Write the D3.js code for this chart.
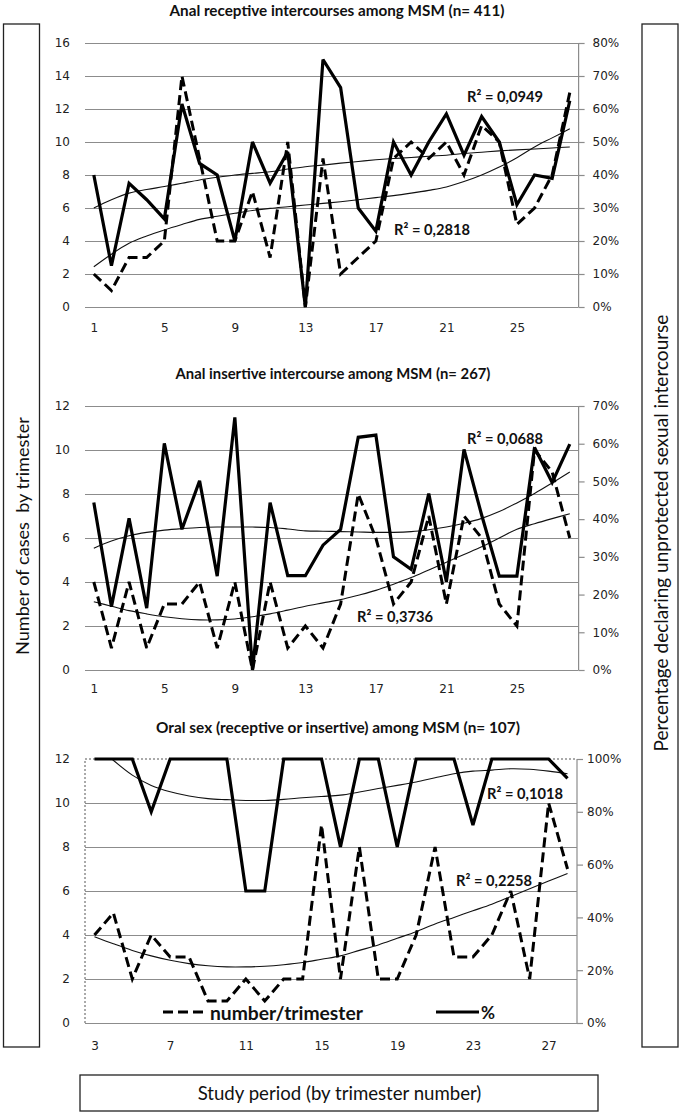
<!DOCTYPE html>
<html><head><meta charset="utf-8">
<script src="https://cdn.jsdelivr.net/npm/d3@7"></script>
<style>html,body{margin:0;padding:0;background:#fff}svg{display:block}</style>
</head><body>
<svg id="chart" width="682" height="1115"></svg>
<script>
// ---------- DATA ----------
const trimestersA = [1,2,3,4,5,6,7,8,9,10,11,12,13,14,15,16,17,18,19,20,21,22,23,24,25,26,27,28];
const trimestersC = [3,4,5,6,7,8,9,10,11,12,13,14,15,16,17,18,19,20,21,22,23,24,25,26,27,28];
const xTicksA = [1,5,9,13,17,21,25];
const xTicksC = [3,7,11,15,19,23,27];

// Panel 1 : anal receptive
const receptiveCount = [2,1,3,3,4,14,9,4,4,7,3,10,0,9,2,3,4,9,10,9,10,8,11,10,5,6,8,13];
const receptivePct   = [40,12.5,37.5,32.5,26.7,61.5,43.5,40,20,50,37.5,47,0,75,66.5,30,23,50,40,50,58.5,46,57.7,50,31,40,39,62.5];
const receptiveCountTrend = [2.44,3.2,3.86,4.3,4.67,5.0,5.31,5.5,5.68,5.85,5.98,6.08,6.18,6.28,6.38,6.5,6.63,6.75,6.9,7.07,7.27,7.6,8.0,8.48,9.05,9.7,10.25,10.8];
const receptivePctTrend   = [30,32.5,34.5,35.6,36.5,37.5,38.5,39.3,40,40.5,41,41.8,42.5,43,43.6,44.1,44.6,45,45.3,45.7,46,46.5,46.9,47.3,47.6,47.9,48.2,48.5];

// Panel 2 : anal insertive
const insertiveCount = [4,1,4,1,3,3,4,1,4,0,4,1,2,1,3,8,6,3,4,7,3,7,6,3,2,10,9,6];
const insertivePct   = [44.4,16.8,40.2,16.4,60.1,37.3,50.2,24.9,67,0,44.4,25,25,33.1,37.3,61.7,62.3,30,26.7,46.8,23.4,58.5,41.1,24.9,24.9,59,49.7,59.9];
const insertiveCountTrend = [3.1,2.9,2.7,2.55,2.42,2.33,2.28,2.28,2.32,2.42,2.55,2.72,2.9,3.05,3.2,3.4,3.62,3.9,4.2,4.55,4.9,5.25,5.6,6.0,6.4,6.65,6.88,7.1];
const insertivePctTrend   = [32.3,34.2,35.6,36.5,37.1,37.5,37.8,37.9,37.9,37.9,37.8,37.4,36.9,36.8,36.7,36.6,36.5,36.5,36.7,37.2,37.9,38.9,40.2,42.0,44.3,46.8,49.6,52.5];

// Panel 3 : oral sex
const oralCount = [4,5,2,4,3,3,1,1,2,1,2,2,9,2,8,2,2,4,8,3,3,4,6,2,10,7];
const oralPct   = [100,100,100,80,100,100,100,100,50,50,100,100,100,66.7,100,100,66.7,100,100,100,75,100,100,100,100,92.7];
const oralCountTrend = [3.92,3.6,3.3,3.05,2.85,2.7,2.6,2.55,2.55,2.58,2.65,2.75,2.9,3.05,3.3,3.55,3.85,4.15,4.5,4.8,5.1,5.4,5.75,6.1,6.45,6.8];
const oralPctTrend   = [106,99.5,93.9,90,87.6,86,85,84.6,84.3,84.3,84.7,85.3,85.8,86.3,87.5,88.8,90,91.3,92.9,94.4,95.4,95.8,96.3,96.1,95.4,94.4];

const countTicksA = [0,2,4,6,8,10,12,14,16];
const countTicksB = [0,2,4,6,8,10,12];
const pctTicksA = [0,10,20,30,40,50,60,70,80];
const pctTicksB = [0,10,20,30,40,50,60,70];
const pctTicksC = [0,20,40,60,80,100];

const titles = [
  "Anal receptive intercourses among MSM (n= 411)",
  "Anal insertive intercourse among MSM (n= 267)",
  "Oral sex (receptive or insertive) among MSM (n= 107)"
];
const r2Labels = [
  ["R\u00B2 = 0,0949","R\u00B2 = 0,2818"],
  ["R\u00B2 = 0,0688","R\u00B2 = 0,3736"],
  ["R\u00B2 = 0,1018","R\u00B2 = 0,2258"]
];
const legendLabels = ["number/trimester","%"];
const leftTitle = "Number of cases  by trimester";
const rightTitle = "Percentage declaring unprotected sexual intercourse";
const bottomTitle = "Study period (by trimester number)";

// ---------- LAYOUT ----------
const svg = d3.select("#chart");
const TXT = "Lato, 'Open Sans', sans-serif";
const TICKF = "'DejaVu Sans', Verdana, sans-serif";
const GRID = "#8c8c8c";
const plotLeft = 85;

const panels = [
  {title:titles[0], titleY:10, titleW:335, titleCx:337, top:43, bottom:307, right:578.6,
   cats:trimestersA, xTicks:xTicksA, yMax:16, yTicks:countTicksA, pMax:80, pTicks:pctTicksA,
   count:receptiveCount, pct:receptivePct, countTrend:receptiveCountTrend, pctTrend:receptivePctTrend,
   r2:r2Labels[0], r2Pos:[[467,96],[394,229]], xPad:16, rPad:8},
  {title:titles[1], titleY:373, titleW:315, titleCx:333, top:406, bottom:670, right:578.6,
   cats:trimestersA, xTicks:xTicksA, yMax:12, yTicks:countTicksB, pMax:70, pTicks:pctTicksB,
   count:insertiveCount, pct:insertivePct, countTrend:insertiveCountTrend, pctTrend:insertivePctTrend,
   r2:r2Labels[1], r2Pos:[[467,438],[357,616]], xPad:14, rPad:8},
  {title:titles[2], titleY:727, titleW:364, titleCx:338, top:759, bottom:1023, right:577,
   cats:trimestersC, xTicks:xTicksC, yMax:12, yTicks:countTicksB, pMax:100, pTicks:pctTicksC,
   count:oralCount, pct:oralPct, countTrend:oralCountTrend, pctTrend:oralPctTrend,
   r2:r2Labels[2], r2Pos:[[487,793],[456,880]], xPad:18, rPad:4, dotted:true, r2Box:true, legend:true}
];

function fit(sel, target){
  const w = sel.node().getComputedTextLength();
  const fs = parseFloat(sel.attr("font-size"));
  if (w > 0) sel.attr("font-size", (fs*target/w).toFixed(2));
  return sel;
}

// outer boxes
svg.append("rect").attr("x",3.5).attr("y",24).attr("width",36).attr("height",1023)
  .attr("fill","#fff").attr("stroke","#222").attr("stroke-width",1.3);
svg.append("rect").attr("x",642).attr("y",24).attr("width",36).attr("height",1023)
  .attr("fill","#fff").attr("stroke","#222").attr("stroke-width",1.3);
svg.append("rect").attr("x",80).attr("y",1075).attr("width",518).attr("height",36)
  .attr("fill","#fff").attr("stroke","#222").attr("stroke-width",1.3);

fit(svg.append("text").attr("transform","translate(21.5,536) rotate(-90)")
  .attr("text-anchor","middle").attr("dominant-baseline","central")
  .attr("font-family",TXT).attr("font-size",15).attr("fill","#111")
  .style("white-space","pre").text(leftTitle), 238);
fit(svg.append("text").attr("transform","translate(660.5,533) rotate(-90)")
  .attr("text-anchor","middle").attr("dominant-baseline","central")
  .attr("font-family",TXT).attr("font-size",15).attr("fill","#111")
  .text(rightTitle), 437);
fit(svg.append("text").attr("x",339.5).attr("y",1093)
  .attr("text-anchor","middle").attr("dominant-baseline","central")
  .attr("font-family",TXT).attr("font-size",15).attr("fill","#111")
  .text(bottomTitle), 284);

panels.forEach((p, i) => {
  const g = svg.append("g");
  const x = d3.scalePoint().domain(p.cats).range([plotLeft, p.right]).padding(0.5);
  const yL = d3.scaleLinear().domain([0, p.yMax]).range([p.bottom, p.top]);
  const yR = d3.scaleLinear().domain([0, p.pMax]).range([p.bottom, p.top]);
  const W = p.right - plotLeft;

  // title
  fit(g.append("text").attr("x",p.titleCx).attr("y",p.titleY)
    .attr("text-anchor","middle").attr("dominant-baseline","central")
    .attr("font-family",TXT).attr("font-weight","bold").attr("font-size",13).attr("fill","#111")
    .text(p.title), p.titleW);

  // clip for trendlines
  const cid = "clip"+i;
  svg.append("clipPath").attr("id",cid).append("rect")
    .attr("x",plotLeft).attr("y",p.top).attr("width",W).attr("height",p.bottom-p.top);

  // gridlines
  const gridVals = p.dotted ? p.yTicks.filter(v => v < p.yMax) : p.yTicks;
  const grid = g.append("g").attr("transform",`translate(${plotLeft},0)`)
    .call(d3.axisLeft(yL).tickValues(gridVals).tickSize(-W).tickFormat(""));
  grid.select(".domain").remove();
  grid.selectAll("line").attr("stroke",GRID).attr("stroke-width",1.2);

  if (p.dotted) {
    g.append("path").attr("d",`M${plotLeft},${p.bottom}V${p.top}H${p.right}`)
      .attr("fill","none").attr("stroke","#555").attr("stroke-width",1).attr("stroke-dasharray","2,2");
  }

  // left axis labels
  const la = g.append("g").attr("transform",`translate(${plotLeft},0)`)
    .call(d3.axisLeft(yL).tickValues(p.yTicks).tickSize(0).tickPadding(15));
  la.select(".domain").remove();
  la.attr("font-family",TICKF).attr("font-size",12).attr("color","#222");

  // right axis
  const ra = g.append("g").attr("transform",`translate(${p.right},0)`)
    .call(d3.axisRight(yR).tickValues(p.pTicks).tickSize(6).tickPadding(p.rPad).tickFormat(d => d + "%"));
  ra.attr("font-family",TICKF).attr("font-size",12).attr("color","#222");
  ra.select(".domain").attr("stroke",GRID).attr("stroke-width",1.2)
    .attr("d",`M0,${p.bottom}V${p.top}`);
  ra.selectAll(".tick line").attr("stroke",GRID).attr("stroke-width",1.2);

  // bottom axis labels
  const ba = g.append("g").attr("transform",`translate(0,${p.bottom})`)
    .call(d3.axisBottom(x).tickValues(p.xTicks).tickSize(0).tickPadding(p.xPad));
  ba.select(".domain").remove();
  ba.attr("font-family",TICKF).attr("font-size",12).attr("color","#222");

  // R² label background (panel 3 upper label)
  if (p.r2Box) {
    g.append("rect").attr("x",p.r2Pos[0][0]-4).attr("y",p.r2Pos[0][1]-9)
      .attr("width",p.right - p.r2Pos[0][0] + 3).attr("height",19).attr("fill","#fff");
  }

  // trendlines
  const tl = g.append("g").attr("clip-path",`url(#${cid})`);
  const lineL = d3.line().x((d,j) => x(p.cats[j])).y(d => yL(d)).curve(d3.curveCatmullRom);
  const lineR = d3.line().x((d,j) => x(p.cats[j])).y(d => yR(d)).curve(d3.curveCatmullRom);
  tl.append("path").attr("d",lineL(p.countTrend)).attr("fill","none").attr("stroke","#111").attr("stroke-width",1.1);
  tl.append("path").attr("d",lineR(p.pctTrend)).attr("fill","none").attr("stroke","#111").attr("stroke-width",1.1);

  // data lines
  const dL = d3.line().x((d,j) => x(p.cats[j])).y(d => yL(d));
  const dR = d3.line().x((d,j) => x(p.cats[j])).y(d => yR(d));
  g.append("path").attr("d",dR(p.pct)).attr("fill","none").attr("stroke","#000")
    .attr("stroke-width",3.2).attr("stroke-linejoin","miter").attr("stroke-miterlimit",3);
  g.append("path").attr("d",dL(p.count)).attr("fill","none").attr("stroke","#000")
    .attr("stroke-width",3).attr("stroke-dasharray","10,5").attr("stroke-linejoin","miter").attr("stroke-miterlimit",3);

  // R² labels
  p.r2.forEach((t, k) => {
    fit(g.append("text").attr("x",p.r2Pos[k][0]).attr("y",p.r2Pos[k][1])
      .attr("dominant-baseline","central").attr("font-family",TXT).attr("font-size",13)
      .attr("font-weight","bold").attr("fill","#111").text(t), 76);
  });

  // legend
  if (p.legend) {
    const ly = 1012;
    g.append("line").attr("x1",163).attr("x2",204).attr("y1",ly).attr("y2",ly)
      .attr("stroke","#000").attr("stroke-width",3).attr("stroke-dasharray","10,5");
    fit(g.append("text").attr("x",210).attr("y",ly).attr("dominant-baseline","central")
      .attr("font-family",TXT).attr("font-weight","bold").attr("font-size",15).attr("fill","#111")
      .text(legendLabels[0]), 153);
    g.append("line").attr("x1",436).attr("x2",479).attr("y1",ly).attr("y2",ly)
      .attr("stroke","#000").attr("stroke-width",3.2);
    fit(g.append("text").attr("x",481).attr("y",ly).attr("dominant-baseline","central")
      .attr("font-family",TXT).attr("font-weight","bold").attr("font-size",15).attr("fill","#111")
      .text(legendLabels[1]), 14);
  }
});
</script>
</body></html>
